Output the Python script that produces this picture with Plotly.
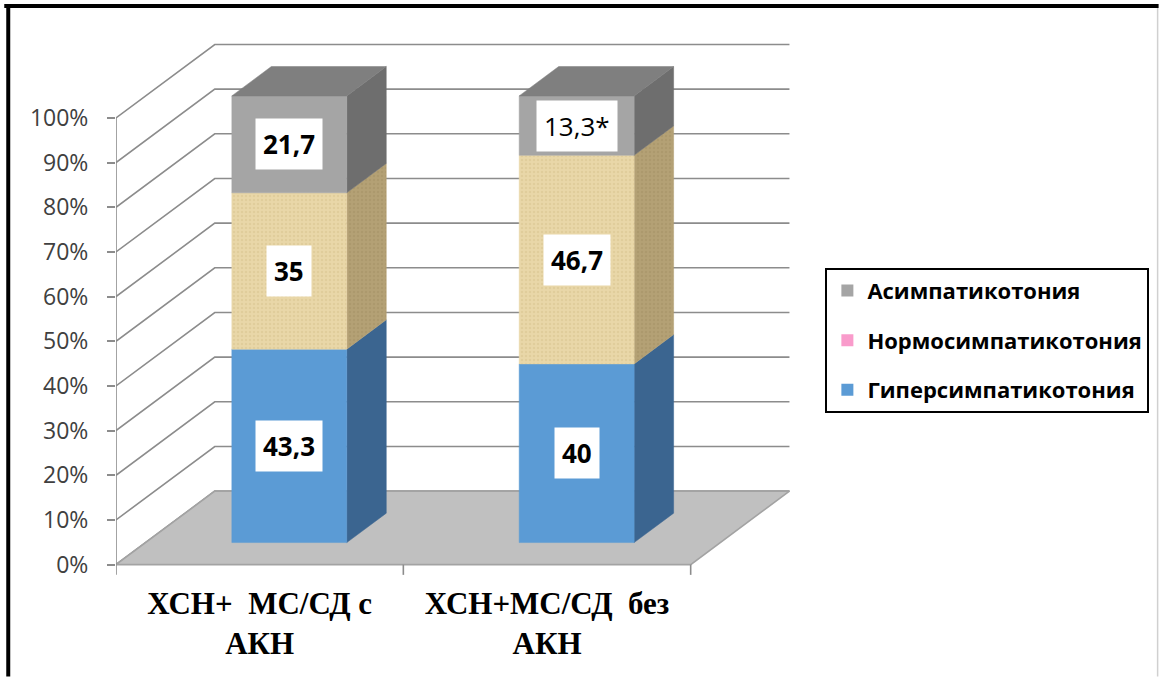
import plotly.graph_objects as go

# ---------------- data ----------------
categories = ["ХСН+  МС/СД с<br>АКН", "ХСН+МС/СД  без<br>АКН"]
series_names = ["Гиперсимпатикотония", "Нормосимпатикотония", "Асимпатикотония"]
hyper = [43.3, 40.0]
normo = [35.0, 46.7]
asym = [21.7, 13.3]
asym_marks = ["", "*"]
y_ticks = [0, 10, 20, 30, 40, 50, 60, 70, 80, 90, 100]
y_ticktext = [f"{v}%" for v in y_ticks]

# ---------------- styling / geometry ----------------
W, H = 1161, 677
L = 116
PXX = 288.0          # px per category unit
PXY = 4.47           # px per percent
XR = [-0.5, 1.87]
YR = [-3, 117]
plotw = (XR[1] - XR[0]) * PXX
ploth = (YR[1] - YR[0]) * PXY
R = W - L - plotw
bottom_px = 565 + (0 - YR[0]) * PXY
B = H - bottom_px
T = bottom_px - ploth

DXU = 99 / PXX       # depth offset in x units
DYU = 73.5 / PXY     # depth offset in y units
FRONT_D, BACK_D = 0.3, 0.7
HALF_W = 0.2

front_cols = ["#5B9BD5", "#E9D7A8", "#A5A5A5"]
side_cols = ["#3B6590", "#B4A175", "#6E6E6E"]
top_col = "#7F7F7F"
legend_cols = {"Асимпатикотония": "#A5A5A5", "Нормосимпатикотония": "#F99BCB",
               "Гиперсимпатикотония": "#5B9BD5"}
grid_col = "#8C8C8C"


def fmt(v):
    s = f"{v:g}"
    return s.replace(".", ",")


def pxx(px):
    return (px - L) / plotw


def pxy(py):
    return (bottom_px - py) / ploth


fig = go.Figure()

# back wall + side wall grid lines
gx, gy = [], []
x_left, x_right = -0.5, 1.5
for v in y_ticks:
    gx += [x_left, x_left + DXU, x_right + DXU, None]
    gy += [v, v + DYU, v + DYU, None]
fig.add_trace(go.Scatter(x=gx, y=gy, mode="lines", line=dict(color=grid_col, width=1.6),
                         hoverinfo="skip", showlegend=False))

# floor
fig.add_trace(go.Scatter(
    x=[x_left, x_right, x_right + DXU, x_left + DXU, x_left],
    y=[0, 0, DYU, DYU, 0], mode="lines", fill="toself", fillcolor="#C0C0C0",
    line=dict(color="#A3A3A3", width=1.6), hoverinfo="skip", showlegend=False))

# front vertical axis line and bottom category ticks
fig.add_trace(go.Scatter(x=[x_left, x_left], y=[0, y_ticks[-1]], mode="lines",
                         line=dict(color=grid_col, width=1.6), hoverinfo="skip", showlegend=False))
tx, ty = [], []
for k in range(len(categories) + 1):
    xb = x_left + k
    tx += [xb, xb, None]
    ty += [0, -2.3, None]
fig.add_trace(go.Scatter(x=tx, y=ty, mode="lines", line=dict(color=grid_col, width=1.6),
                         hoverinfo="skip", showlegend=False))

# 3D bars
series = [hyper, normo, asym]
annots = []
for i, cat in enumerate(categories):
    c = i
    off = FRONT_D * DXU
    zf = FRONT_D * DYU
    ddx = (BACK_D - FRONT_D) * DXU
    ddy = (BACK_D - FRONT_D) * DYU
    x0, x1 = c + off - HALF_W, c + off + HALF_W
    base = 0.0
    for s, vals in enumerate(series):
        v = vals[i]
        y0, y1 = base + zf, base + v + zf
        # side face
        fig.add_trace(go.Scatter(
            x=[x1, x1 + ddx, x1 + ddx, x1, x1], y=[y0, y0 + ddy, y1 + ddy, y1, y0],
            mode="lines", fill="toself", fillcolor=side_cols[s],
            line=dict(color=side_cols[s], width=0.5),
            fillpattern=dict(shape=".", size=4, solidity=0.3, fgcolor="#9C895E",
                             bgcolor=side_cols[s], fgopacity=0.35) if s == 1 else None,
            hoverinfo="skip", showlegend=False))
        # front face
        fig.add_trace(go.Scatter(
            x=[x0, x1, x1, x0, x0], y=[y0, y0, y1, y1, y0],
            mode="lines", fill="toself", fillcolor=front_cols[s],
            line=dict(color=front_cols[s], width=0.5),
            fillpattern=dict(shape=".", size=4, solidity=0.3, fgcolor="#D6C18C",
                             bgcolor=front_cols[s], fgopacity=0.45) if s == 1 else None,
            hoverinfo="skip", showlegend=False))
        marked = s == 2 and asym_marks[i] != ""
        text = fmt(v) + (asym_marks[i] if s == 2 else "")
        annots.append(dict(x=c + off, y=base + v / 2 + zf, xref="x", yref="y", text=text,
                           showarrow=False, bgcolor="white", borderpad=7,
                           font=dict(family="Open Sans", size=26, color="black",
                                     weight="normal" if marked else "bold")))
        base += v
    # top face
    ytop = base + zf
    fig.add_trace(go.Scatter(
        x=[x0, x1, x1 + ddx, x0 + ddx, x0], y=[ytop, ytop, ytop + ddy, ytop + ddy, ytop],
        mode="lines", fill="toself", fillcolor=top_col, line=dict(color=top_col, width=0.5),
        hoverinfo="skip", showlegend=False))

# legend entries
for name in ["Асимпатикотония", "Нормосимпатикотония", "Гиперсимпатикотония"]:
    fig.add_trace(go.Scatter(x=[None], y=[None], mode="markers", name=name, legendgroup=name,
                             marker=dict(symbol="square", size=12, color=legend_cols[name])))

# frame
shapes = [
    dict(type="rect", xref="paper", yref="paper", x0=pxx(4), x1=pxx(1161), y0=pxy(4), y1=pxy(8),
         fillcolor="black", line=dict(width=0), layer="above"),
    dict(type="rect", xref="paper", yref="paper", x0=pxx(6), x1=pxx(10), y0=pxy(4), y1=pxy(677),
         fillcolor="black", line=dict(width=0), layer="above"),
    dict(type="line", xref="paper", yref="paper", x0=pxx(1160), x1=pxx(1160), y0=pxy(8), y1=pxy(677),
         line=dict(color="#D0D0D0", width=1.5)),
]

fig.update_layout(
    width=W, height=H,
    margin=dict(l=L, r=R, t=T, b=B, pad=0),
    paper_bgcolor="white", plot_bgcolor="rgba(0,0,0,0)",
    xaxis=dict(range=XR, tickvals=list(range(len(categories))), ticktext=categories,
               showgrid=False, zeroline=False, showline=False, ticks="",
               ticklabelstandoff=4,
               tickfont=dict(family="Liberation Serif", size=31, color="black", weight="bold"),
               fixedrange=True),
    yaxis=dict(range=YR, tickvals=y_ticks, ticktext=y_ticktext, showgrid=False, zeroline=False,
               showline=False, ticks="outside", ticklen=8, tickcolor=grid_col, tickwidth=1.6,
               ticklabelstandoff=14,
               tickfont=dict(family="Open Sans", size=23, color="#404040"), fixedrange=True),
    showlegend=True,
    legend=dict(x=pxx(827), y=pxy(268), xanchor="left", yanchor="top",
                bordercolor="black", borderwidth=2, bgcolor="white",
                traceorder="grouped", tracegroupgap=18,
                font=dict(family="Open Sans", size=22, color="black", weight="bold")),
    annotations=annots,
    shapes=shapes,
)

fig.write_html("out.html")
